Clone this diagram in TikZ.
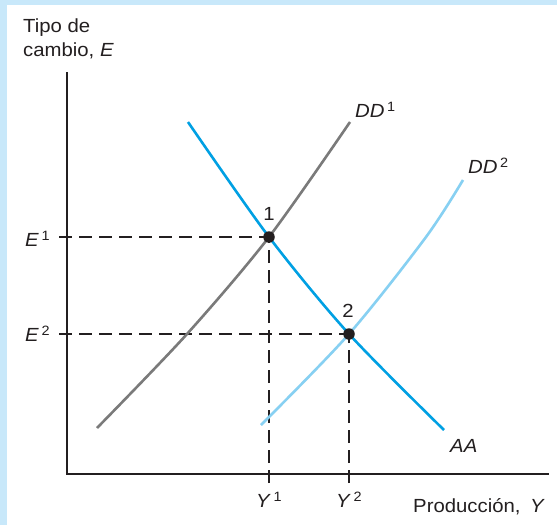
\documentclass[tikz,border=0pt]{standalone}
\usepackage{xcolor}
\usepackage{fontspec}
\setmainfont{Liberation Sans}[FakeStretch=1.07]
\usepackage{tikz}
\usetikzlibrary{positioning}

\definecolor{framebg}{RGB}{200,232,250}
\definecolor{inkcol}{RGB}{35,31,32}
\definecolor{aacol}{RGB}{0,160,227}
\definecolor{ddonecol}{RGB}{122,122,122}
\definecolor{ddtwocol}{RGB}{135,208,242}

\newcommand{\supidx}[1]{\hspace{2.6pt}\raisebox{5.4pt}{\fontsize{13.5}{13.5}\selectfont #1}}

\begin{document}
\begin{tikzpicture}[x=1pt, y=-1pt, font=\fontsize{19}{24}\selectfont,
    axis/.style={draw=inkcol, line width=2.7pt},
    guide/.style={draw=inkcol, line width=1.3pt, dash pattern=on 13pt off 7pt},
    curve/.style={line width=2.6pt},
    eqpt/.style={circle, fill=inkcol, inner sep=0pt, minimum size=11.5pt},
    lbl/.style={text=inkcol, inner sep=0pt, anchor=base west}]
    % frame
    \fill[framebg] (0,0) rectangle (557,525);
    \fill[white] (7,5) rectangle (557,525);
    \useasboundingbox (0,0) rectangle (557,525);

    \coordinate (ytop) at (67,72);
    \coordinate (xend) at (549,474);
    \coordinate (tickl) at (59,474);
    \coordinate (tickb) at (67,483);
    \coordinate (eq1) at (269,237);
    \coordinate (eq2) at (349,334);

    % guides
    \draw [guide] (eq1 -| tickl) -- (eq1);
    \draw [guide] (eq2 -| tickl) -- (eq2);
    \draw [guide] (eq1 |- tickb) -- (eq1);
    \draw [guide] (eq2 |- tickb) -- (eq2);

    % axes
    \draw [axis] (ytop) |- (xend);

    % curves
    \draw [curve, ddonecol] plot[smooth] coordinates {(97,428) (187,334) (eq1) (350,122)};
    \draw [curve, ddtwocol] plot[smooth] coordinates {(261,425) (eq2) (426,237) (463,180)};
    \draw [curve, aacol] plot[smooth] coordinates {(188,122) (eq1) (eq2) (444,430)};

    \node (pt1) at (eq1) [eqpt] {};
    \node (pt2) at (eq2) [eqpt] {};

    % labels
    \node (ylab) at (23,19) [text=inkcol, inner sep=0pt, anchor=north west, align=left] {Tipo de\\cambio, \textit{E}};
    \node (xlab) at (413,512) [lbl] {Producci\'on,\hspace{4pt} \textit{Y}};
    \node (e1lab) at (25,246) [lbl] {\textit{E}\supidx{1}};
    \node (e2lab) at (25,341) [lbl] {\textit{E}\supidx{2}};
    \node (y1lab) at (256,507) [lbl] {\textit{Y}\supidx{1}};
    \node (y2lab) at (336,507) [lbl] {\textit{Y}\supidx{2}};
    \node (dd1lab) at (355,117) [lbl] {\textit{DD}\supidx{1}};
    \node (dd2lab) at (468,173) [lbl] {\textit{DD}\supidx{2}};
    \node (aalab) at (450,452) [lbl] {\textit{AA}};
    \node (n1) at (269,220) [text=inkcol, inner sep=0pt, anchor=base] {1};
    \node (n2) at (348,317) [text=inkcol, inner sep=0pt, anchor=base] {2};
\end{tikzpicture}
\end{document}
